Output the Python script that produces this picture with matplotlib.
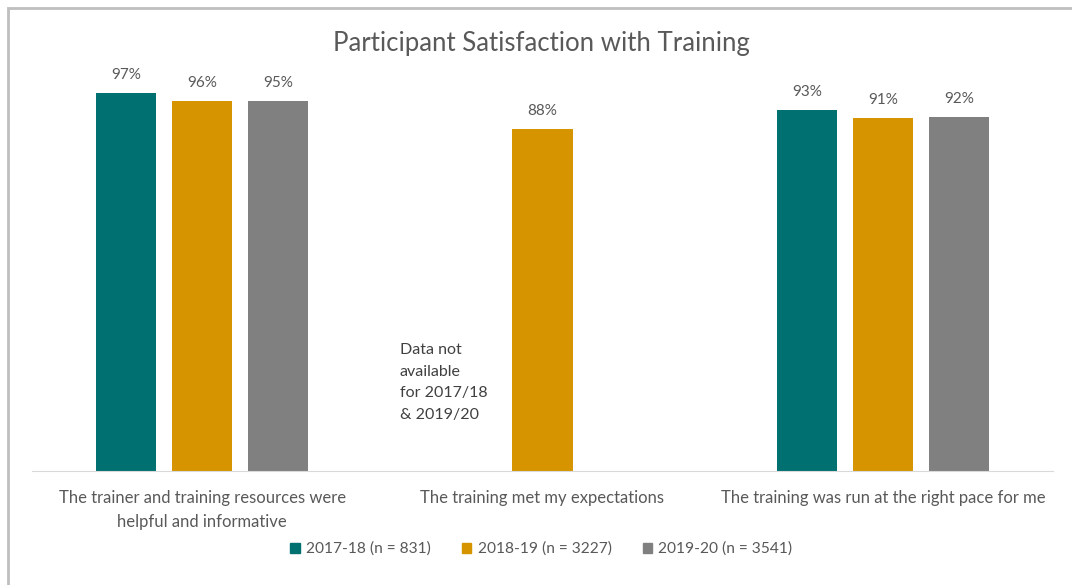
import numpy as np
import matplotlib.pyplot as plt
from matplotlib.patches import Patch, Rectangle

plt.rcParams["font.family"] = ["Lato", "DejaVu Sans"]

categories = ["The trainer and training resources were\nhelpful and informative",
              "The training met my expectations",
              "The training was run at the right pace for me"]
series_names = ["2017-18 (n = 831)", "2018-19 (n = 3227)", "2019-20 (n = 3541)"]
colors = ["#007070", "#D69500", "#808080"]

# bar heights (nan = no data)
vals_1718 = [97.0, np.nan, 92.6]
vals_1819 = [95.0, 87.7, 90.7]
vals_1920 = [94.9, np.nan, 91.0]
# data labels as printed
labels_1718 = ["97%", "", "93%"]
labels_1819 = ["96%", "88%", "91%"]
labels_1920 = ["95%", "", "92%"]

note = "Data not\navailable\nfor 2017/18\n& 2019/20"

W, H = 1072, 585
fig = plt.figure(figsize=(W / 100, H / 100), dpi=100)
ax = fig.add_axes([32 / W, 1 - 471 / H, (1053 - 32) / W, 389.4 / H])

# chart border like excel
fig.patches.append(Rectangle((8 / W, -0.1), 1.2, 1 - 8 / H + 0.1, transform=fig.transFigure,
                             fill=False, edgecolor="#BFBFBF", linewidth=2))

x = np.arange(len(categories))
width = 60 / 340.3
step = 76 / 340.3
all_vals = [vals_1718, vals_1819, vals_1920]
all_labels = [labels_1718, labels_1819, labels_1920]
for i, (v, lab) in enumerate(zip(all_vals, all_labels)):
    for j in range(len(categories)):
        if np.isnan(v[j]):
            continue
        xpos = x[j] + (i - 1) * step
        ax.bar(xpos, v[j], width, color=colors[i])
        ax.annotate(lab[j], (xpos, v[j]), xytext=(0, 8), textcoords="offset points",
                    ha="center", va="bottom", fontsize=11, color="#595959")

ax.text(0.58, 32.8, note, ha="left", va="top", fontsize=11.5, color="#404040", linespacing=1.68)

ax.set_xlim(-0.5, 2.5)
ax.set_ylim(0, 100)
ax.set_yticks([])
ax.set_xticks(x)
ax.set_xticklabels(categories, fontsize=12, color="#595959", linespacing=1.55)
ax.tick_params(axis="x", length=0, pad=14)
for s in ["top", "right", "left"]:
    ax.spines[s].set_visible(False)
ax.spines["bottom"].set_color("#D9D9D9")

fig.suptitle("Participant Satisfaction with Training", x=0.505, y=1 - 31 / H, va="top",
             fontsize=18.5, color="#595959")

handles = [Patch(color=c) for c in colors]
fig.legend(handles, series_names, loc="center", bbox_to_anchor=(0.505, 1 - 549 / H), ncol=3,
           frameon=False, handlelength=0.6, handleheight=0.6, handletextpad=0.4,
           columnspacing=2.0, fontsize=11.2, labelcolor="#595959")

fig.savefig("out.png", dpi=100)
